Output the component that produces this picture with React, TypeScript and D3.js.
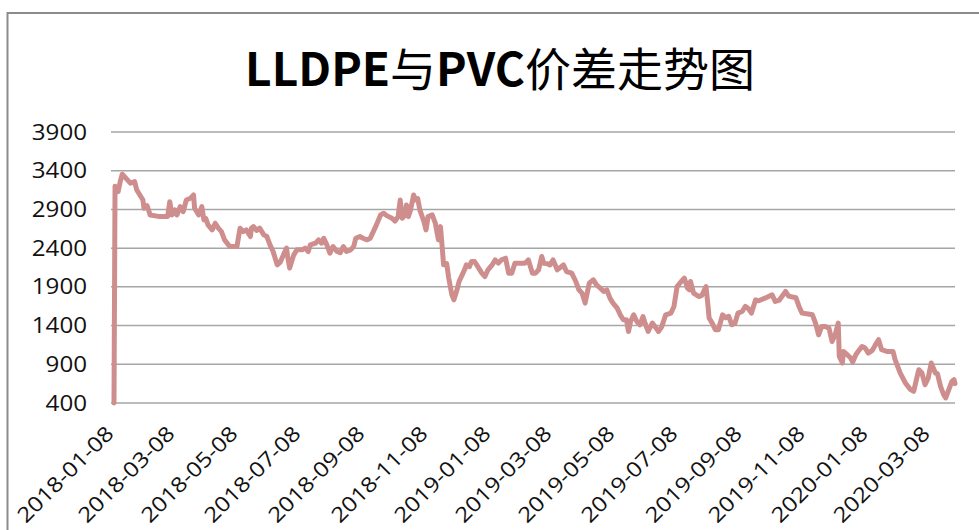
import React from 'react';
import * as d3 from 'd3';

const title = 'LLDPE与PVC价差走势图';

const dates: string[] = [
  '2018-01-08', '2018-01-09', '2018-01-12', '2018-01-14', '2018-01-16', '2018-01-21', '2018-01-24', '2018-01-28', '2018-01-30',
  '2018-02-01', '2018-02-05', '2018-02-06', '2018-02-09', '2018-02-12', '2018-02-20',
  '2018-03-01', '2018-03-03', '2018-03-05', '2018-03-08', '2018-03-10', '2018-03-13', '2018-03-16', '2018-03-19', '2018-03-23', '2018-03-26', '2018-03-27', '2018-03-31',
  '2018-04-03', '2018-04-05', '2018-04-07', '2018-04-09', '2018-04-13', '2018-04-16', '2018-04-19', '2018-04-22', '2018-04-25', '2018-04-30',
  '2018-05-07', '2018-05-10', '2018-05-13', '2018-05-16', '2018-05-20', '2018-05-21', '2018-05-23', '2018-05-26', '2018-05-29',
  '2018-06-02', '2018-06-05', '2018-06-08', '2018-06-11', '2018-06-15', '2018-06-18', '2018-06-21', '2018-06-24', '2018-06-25', '2018-06-27',
  '2018-07-01', '2018-07-04', '2018-07-09', '2018-07-12', '2018-07-15', '2018-07-17', '2018-07-22', '2018-07-25', '2018-07-28', '2018-07-30',
  '2018-08-02', '2018-08-05', '2018-08-08', '2018-08-12', '2018-08-15', '2018-08-18', '2018-08-21', '2018-08-25', '2018-08-28', '2018-08-30',
  '2018-09-03', '2018-09-06', '2018-09-10', '2018-09-13', '2018-09-16', '2018-09-19', '2018-09-23', '2018-09-26', '2018-09-29',
  '2018-10-04', '2018-10-07', '2018-10-10', '2018-10-12', '2018-10-14', '2018-10-17', '2018-10-18', '2018-10-20', '2018-10-22', '2018-10-25', '2018-10-27', '2018-10-29', '2018-10-31',
  '2018-11-04', '2018-11-06', '2018-11-08', '2018-11-12', '2018-11-15', '2018-11-18', '2018-11-20', '2018-11-22', '2018-11-23', '2018-11-26', '2018-11-28',
  '2018-12-01', '2018-12-03', '2018-12-06', '2018-12-08', '2018-12-11', '2018-12-14', '2018-12-15', '2018-12-18', '2018-12-20', '2018-12-23', '2018-12-27', '2018-12-30',
  '2019-01-02', '2019-01-05', '2019-01-09', '2019-01-12', '2019-01-15', '2019-01-18', '2019-01-22', '2019-01-25', '2019-01-28', '2019-01-31',
  '2019-02-05', '2019-02-10', '2019-02-13', '2019-02-17', '2019-02-20', '2019-02-23', '2019-02-26', '2019-02-28',
  '2019-03-03', '2019-03-06', '2019-03-09', '2019-03-13', '2019-03-16', '2019-03-19', '2019-03-22', '2019-03-27', '2019-03-31',
  '2019-04-03', '2019-04-06', '2019-04-09', '2019-04-11', '2019-04-13', '2019-04-17', '2019-04-20', '2019-04-24', '2019-04-27', '2019-04-30',
  '2019-05-03', '2019-05-06', '2019-05-10', '2019-05-13', '2019-05-16', '2019-05-19', '2019-05-21', '2019-05-23', '2019-05-26', '2019-05-29',
  '2019-06-01', '2019-06-04', '2019-06-06', '2019-06-09', '2019-06-13', '2019-06-16', '2019-06-19', '2019-06-22', '2019-06-26',
  '2019-07-01', '2019-07-04', '2019-07-07', '2019-07-11', '2019-07-14', '2019-07-17', '2019-07-19', '2019-07-20', '2019-07-23', '2019-07-28', '2019-07-31',
  '2019-08-04', '2019-08-06', '2019-08-07', '2019-08-10', '2019-08-13', '2019-08-16', '2019-08-20', '2019-08-23', '2019-08-26', '2019-08-29',
  '2019-09-01', '2019-09-04', '2019-09-08', '2019-09-11', '2019-09-14', '2019-09-17', '2019-09-21', '2019-09-24', '2019-09-30',
  '2019-10-07', '2019-10-10', '2019-10-14', '2019-10-20', '2019-10-23', '2019-10-30',
  '2019-11-02', '2019-11-05', '2019-11-11', '2019-11-15', '2019-11-18', '2019-11-21', '2019-11-24', '2019-11-27',
  '2019-12-01', '2019-12-04', '2019-12-07', '2019-12-10', '2019-12-11', '2019-12-14', '2019-12-15', '2019-12-19', '2019-12-22', '2019-12-24', '2019-12-27', '2019-12-30',
  '2020-01-02', '2020-01-05', '2020-01-08', '2020-01-12', '2020-01-16', '2020-01-18', '2020-01-21', '2020-01-26',
  '2020-02-01', '2020-02-03', '2020-02-08', '2020-02-13', '2020-02-18', '2020-02-21', '2020-02-24', '2020-02-26', '2020-02-29',
  '2020-03-03', '2020-03-06', '2020-03-09', '2020-03-13', '2020-03-15', '2020-03-18', '2020-03-21', '2020-03-23', '2020-03-26', '2020-03-29', '2020-03-31',
  '2020-04-01',
];

const spread: number[] = [
  400, 3200, 3130, 3259, 3354, 3281, 3238, 3259, 3152,
  3109, 3022, 2915, 2950, 2829, 2810,
  2810, 3000, 2829, 2894, 2829, 2936, 2872, 3022, 3045, 3087, 2915, 2829,
  2936, 2764, 2780, 2700, 2636, 2722, 2658, 2614, 2507, 2421,
  2421, 2658, 2614, 2636, 2550, 2658, 2678, 2630, 2658,
  2571, 2550, 2442, 2356, 2184, 2220, 2313, 2400, 2300, 2142,
  2313, 2378, 2378, 2400, 2356, 2442, 2464, 2507, 2464, 2528,
  2442, 2335, 2421, 2356, 2340, 2421, 2356, 2378, 2421, 2528,
  2550, 2528, 2507, 2528, 2614, 2700, 2829, 2851, 2820,
  2786, 2750, 2807, 3022, 2786, 2830, 2958, 2807, 2894, 3087, 3022, 3040, 2894,
  2743, 2636, 2807, 2829, 2722, 2507, 2678, 2356, 2184, 2200, 2013,
  1797, 1733, 1862, 1969, 2055, 2142, 2184, 2160, 2227, 2227, 2142, 2077,
  2033, 2120, 2184, 2249, 2206, 2249, 2270, 2077, 2077, 2206,
  2206, 2206, 2249, 2077, 2077, 2120, 2292, 2206,
  2200, 2184, 2249, 2120, 2150, 2184, 2098, 2077, 1969,
  1862, 1819, 1690, 1820, 1948, 1991, 1926, 1880, 1840, 1860,
  1754, 1690, 1625, 1539, 1475, 1475, 1324, 1453, 1539, 1453,
  1410, 1517, 1430, 1324, 1432, 1380, 1324, 1380, 1539,
  1561, 1647, 1904, 1969, 2013, 1884, 1862, 1969, 1819, 1775, 1790,
  1904, 1647, 1497, 1432, 1346, 1346, 1539, 1500, 1520, 1410,
  1430, 1561, 1582, 1647, 1620, 1561, 1733, 1720, 1754,
  1797, 1711, 1730, 1840, 1780, 1760,
  1647, 1561, 1550, 1539, 1432, 1281, 1389, 1389,
  1368, 1195, 1281, 1432, 1001, 916, 1066, 1020, 980, 930, 1023, 1080,
  1130, 1110, 1045, 1080, 1174, 1217, 1088, 1066,
  1066, 959, 787, 658, 572, 550, 722, 830, 787,
  636, 720, 916, 787, 780, 614, 507, 465, 572, 679, 701,
  650,
];

const yTicks = [400, 900, 1400, 1900, 2400, 2900, 3400, 3900];

const xTickLabels = [
  '2018-01-08', '2018-03-08', '2018-05-08', '2018-07-08', '2018-09-08', '2018-11-08', '2019-01-08',
  '2019-03-08', '2019-05-08', '2019-07-08', '2019-09-08', '2019-11-08', '2020-01-08', '2020-03-08',
];

const W = 979;
const H = 530;
const plot = { left: 111, right: 955, top: 132, bottom: 403 };
const font = "'Open Sans', 'Noto Sans', sans-serif";

export default function App() {
  const parse = d3.timeParse('%Y-%m-%d');
  const points = dates.map((d, i) => ({ date: parse(d) as Date, value: spread[i] }));

  const x = d3.scaleTime()
    .domain(d3.extent(points, d => d.date) as [Date, Date])
    .range([plot.left + 3, plot.right]);

  const y = d3.scaleLinear()
    .domain([400, 3900])
    .range([plot.bottom, plot.top]);

  const line = d3.line<{ date: Date; value: number }>()
    .x(d => x(d.date))
    .y(d => y(d.value));

  return (
    <div style={{ position: 'fixed', left: 0, top: 0 }}>
      <svg width={W} height={H} style={{ display: 'block', background: '#fff' }}>
        <rect x={7.5} y={13} width={1100} height={700} fill="none" stroke="#8c8c8c" strokeWidth={2} />

        {/* title: latin parts bold, CJK parts regular as in the original */}
        <text x={500} y={86} textAnchor="middle" fontSize={46} fill="#000"
          fontFamily="'Noto Sans CJK SC', sans-serif">
          <tspan fontWeight="bold">{title.slice(0, 5)}</tspan>
          <tspan>{title.slice(5, 6)}</tspan>
          <tspan fontWeight="bold">{title.slice(6, 9)}</tspan>
          <tspan>{title.slice(9)}</tspan>
        </text>

        {yTicks.map(t => (
          <g key={t}>
            <line x1={plot.left} x2={plot.right} y1={y(t)} y2={y(t)} stroke="#a6a6a6" strokeWidth={1.5} />
            <text transform={`translate(87,${y(t) + 7.5}) scale(1.15,1)`} textAnchor="end"
              fontSize={21} fontFamily={font} fill="#111">{t}</text>
          </g>
        ))}

        <path d={line(points) ?? ''} fill="none" stroke="#cf8e8e" strokeWidth={5}
          strokeLinejoin="round" strokeLinecap="round" />

        {xTickLabels.map(l => {
          const px = x(parse(l) as Date);
          return (
            <text key={l} transform={`translate(${px + 1},435) rotate(-45) scale(1.15,1)`}
              textAnchor="end" fontSize={21} fontFamily={font} fill="#111">{l}</text>
          );
        })}
      </svg>
    </div>
  );
}
